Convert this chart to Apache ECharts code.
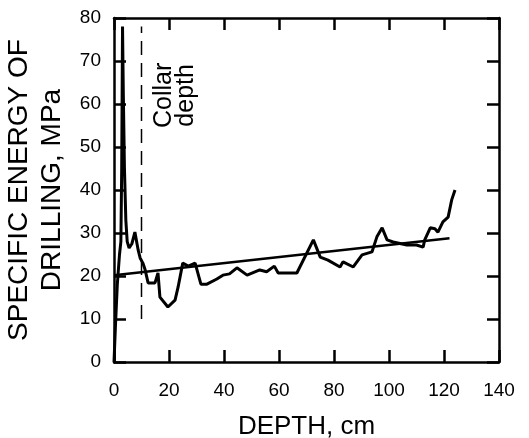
<!DOCTYPE html>
<html><head><meta charset="utf-8">
<script src="https://cdn.jsdelivr.net/npm/echarts@6/dist/echarts.min.js"></script>
<style>html,body{margin:0;padding:0;background:#fff}#c{width:529px;height:438px}</style>
</head><body><div id="c"></div>
<script>
const depth = [0,0.5,1.2,2.0,2.5,2.8,3.1,3.4,3.8,4.3,4.8,5.5,6.5,7.6,8.8,9.5,10.5,11.3,12.4,14.9,16,16.7,19.6,22.2,23.3,25,27,29.5,31.6,33.8,37.4,39.6,42,44.7,48.4,53,55.5,58.3,59.7,66.5,72.5,75,77.8,82.2,83.3,87,90.2,93.8,95.6,97.5,99.3,101.5,106.5,110,112.4,113,115,116.7,117.8,119.6,121.5,122.8,124];
const energy = [0,8,18,25,28,45,78,62,45,33,28,26.5,27.5,30.2,26,24.2,23,21.5,18.4,18.4,20.7,15.1,12.8,14.4,17.4,23,22.3,23,18.1,18.1,19.3,20.2,20.5,21.9,20.2,21.4,21,22.3,20.7,20.7,28.4,24.4,23.7,22.1,23.3,22.1,24.9,25.6,29.1,31.2,28.4,27.9,27.2,27.2,26.7,28.4,31.2,31,30.2,32.6,33.7,37.7,40];
const trendDepth = [0,122];
const trendValue = [20.2,28.8];
const collarDepth = 10;
const collarRange = [10,78];
const xTicks = [0,20,40,60,80,100,120,140];
const yTicks = [0,10,20,30,40,50,60,70,80];
const collarLabel = 'Collar\ndepth';
const xTitle = 'DEPTH, cm';
const yTitle = 'SPECIFIC ENERGY OF\nDRILLING, MPa';

const FONT = 'Liberation Sans, Arial, sans-serif';
const chart = echarts.init(document.getElementById('c'));
function axisLine(){ return {show:true, onZero:false, lineStyle:{color:'#000', width:2.5}}; }
function tickIn(){ return {show:true, inside:true, length:12, lineStyle:{color:'#000', width:2.5}}; }
function xBase(){ return {type:'value', min:xTicks[0], max:xTicks[xTicks.length-1], interval:xTicks[1]-xTicks[0], splitLine:{show:false}, axisLine:axisLine(), axisTick:tickIn()}; }
function yBase(){ return {type:'value', min:yTicks[0], max:yTicks[yTicks.length-1], interval:yTicks[1]-yTicks[0], splitLine:{show:false}, axisLine:axisLine(), axisTick:tickIn()}; }
chart.setOption({
  animation:false,
  backgroundColor:'#fff',
  grid:{left:114, right:30, top:18, bottom:76, containLabel:false, outerBoundsMode:'none'},
  xAxis:[
    Object.assign(xBase(), {position:'bottom', axisLabel:{color:'#000', fontSize:19, fontFamily:FONT, margin:19},
      name:xTitle, nameLocation:'middle', nameGap:52, nameTextStyle:{color:'#000', fontSize:26, fontFamily:FONT}}),
    Object.assign(xBase(), {position:'top', axisLabel:{show:false}})
  ],
  yAxis:[
    Object.assign(yBase(), {position:'left', axisLabel:{color:'#000', fontSize:19, fontFamily:FONT, margin:13},
      name:yTitle, nameLocation:'middle', nameGap:27, nameRotate:90, nameTextStyle:{color:'#000', fontSize:28, fontFamily:FONT, lineHeight:33}}),
    Object.assign(yBase(), {position:'right', axisLabel:{show:false}})
  ],
  series:[
    {type:'line', data:depth.map((d,i)=>[d,energy[i]]), showSymbol:false, lineStyle:{color:'#000', width:3}, z:3},
    {type:'line', data:trendDepth.map((d,i)=>[d,trendValue[i]]), showSymbol:false, lineStyle:{color:'#000', width:2.5}, z:2},
    {type:'line', data:collarRange.map(v=>[collarDepth,v]), showSymbol:false, lineStyle:{color:'#000', width:1.5, type:[14,8]}, z:2,
      markPoint:{symbol:'circle', symbolSize:0, data:[{coord:[collarDepth+12.3, 62]}],
        label:{show:true, formatter:collarLabel, rotate:90, color:'#000', fontSize:25, fontFamily:FONT, lineHeight:22, align:'center', verticalAlign:'middle'}}}
  ]
});
</script></body></html>
